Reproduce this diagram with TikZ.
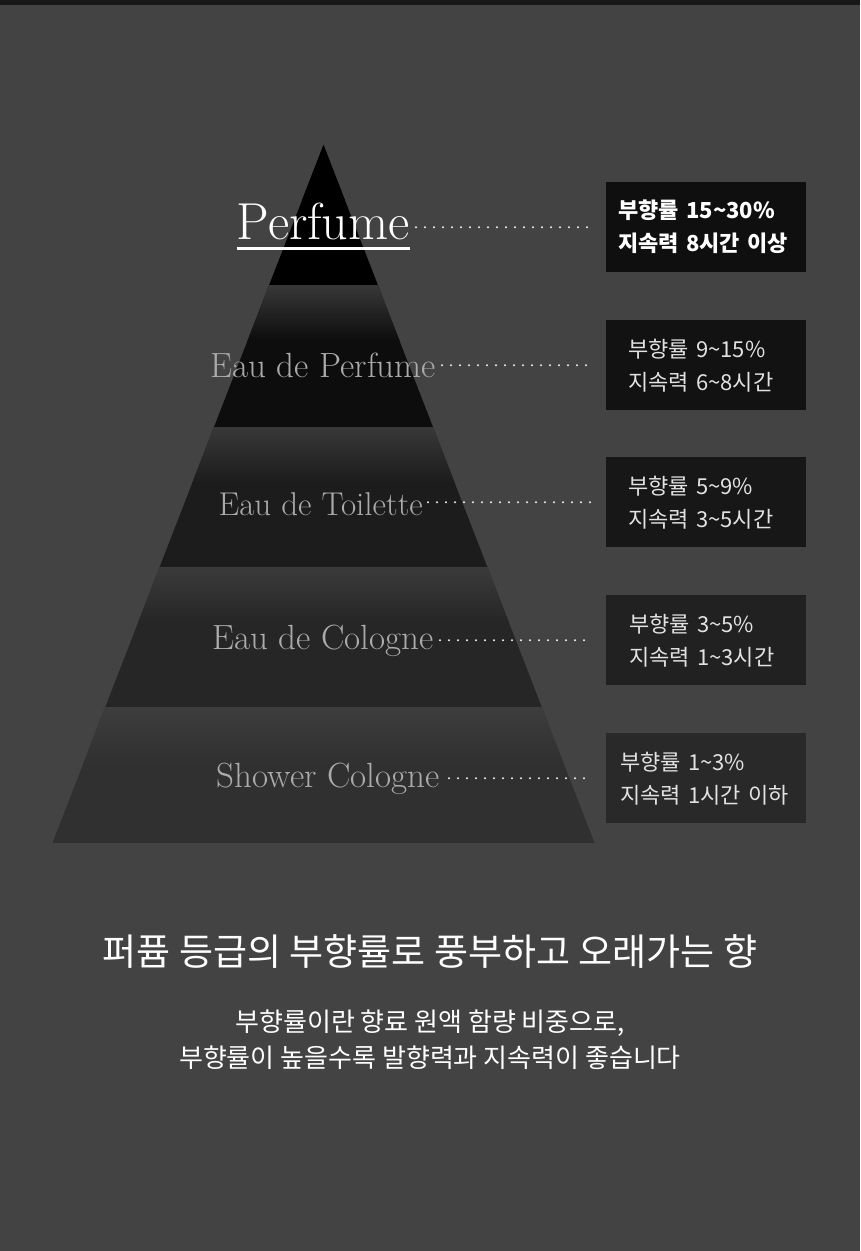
\documentclass[tikz,border=0pt]{standalone}
\usepackage{fontspec}
\newfontfamily\krfont{Noto Sans CJK KR}
\usetikzlibrary{positioning,calc}

\definecolor{bgcol}{HTML}{434343}
\definecolor{bandcol}{HTML}{171717}
\definecolor{gradecol}{HTML}{ABABAB}
\definecolor{boxtext}{HTML}{E2E2E2}

\begin{document}
\begin{tikzpicture}[x=1pt,y=-1pt,
    infobox/.style={anchor=north west, minimum width=200pt, minimum height=90pt,
        align=left, font=\krfont\fontsize{22}{33}\selectfont},
    grade/.style={anchor=base east, inner sep=0pt, text=gradecol,
        font=\fontsize{35}{40}\selectfont},
    dotline/.style={white!88!gray, line width=2.4pt, line cap=round,
        dash pattern=on 0pt off 9pt},
    ]
\useasboundingbox (0,0) rectangle (860,1251);
\fill[bgcol] (0,0) rectangle (860,1251);
\fill[bandcol] (0,0) rectangle (860,5);

    % pyramid layers
    \foreach \ya/\yb/\ct/\cb [evaluate=\ya as \wa using {(\ya-145)*0.3883},
    evaluate=\yb as \wb using {(\yb-145)*0.3883}] in
    {145/285/black/black, 285/427/black!78/black!95, 427/567/black!78/black!89,
     567/707/black!77/black!85, 707/843/black!76/black!81}
    {
    \begin{scope}
    \clip (323.5-\wa,\ya) -- (323.5+\wa,\ya) -- (323.5+\wb,\yb) -- (323.5-\wb,\yb) -- cycle;
    \fill[\cb] (40,\ya) rectangle (610,\yb);
    \shade[top color=\ct, bottom color=\cb] (40,\ya) rectangle (610,\ya+55);
    \end{scope}
    }

    % grade names
    \node[grade, text=white, font=\fontsize{52}{60}\selectfont] (grade1) at (410,239) {Perfume};
    \node[grade] (grade2) at (436,377) {Eau de Perfume};
    \node[grade, font=\fontsize{33}{40}\selectfont] (grade3) at (423,515) {Eau de Toilette};
    \node[grade] (grade4) at (434,649) {Eau de Cologne};
    \node[grade] (grade5) at (440,787) {Shower Cologne};
    \draw[white, line width=3pt] ([yshift=-9pt]grade1.base west) -- ([yshift=-9pt]grade1.base east);

    % info boxes
    \node[infobox, fill=black!94, text=white, inner xsep=12pt, text width=176pt,
        font=\krfont\bfseries\fontsize{22}{33}\selectfont] (box1) at (606,182)
        {부향률 15\textasciitilde30\%\\지속력 8시간 이상};
    \node[infobox, fill=black!93, text=boxtext, inner xsep=22pt, text width=156pt] (box2) at (606,320)
        {부향률 9\textasciitilde15\%\\지속력 6\textasciitilde8시간};
    \node[infobox, fill=black!91, text=boxtext, inner xsep=22pt, text width=156pt] (box3) at (606,457)
        {부향률 5\textasciitilde9\%\\지속력 3\textasciitilde5시간};
    \node[infobox, fill=black!87, text=boxtext, inner xsep=23pt, text width=154pt] (box4) at (606,595)
        {부향률 3\textasciitilde5\%\\지속력 1\textasciitilde3시간};
    \node[infobox, fill=black!84, text=boxtext, inner xsep=14pt, text width=172pt] (box5) at (606,733)
        {부향률 1\textasciitilde3\%\\지속력 1시간 이하};

    \foreach \i/\gap in {1/6, 2/6, 3/5, 4/6, 5/9}
    \draw[dotline] ([xshift=\gap pt]grade\i.east |- box\i.west) -- ([xshift=-14pt]box\i.west);

    % bottom text
    \node[text=white, font=\krfont\fontsize{37}{42}\selectfont] (title) at (430,952)
        {퍼퓸 등급의 부향률로 풍부하고 오래가는 향};
    \node[text=white, align=center, font=\krfont\fontsize{26}{36}\selectfont] (note) at (430,1040)
        {부향률이란 향료 원액 함량 비중으로,\\부향률이 높을수록 발향력과 지속력이 좋습니다};
\end{tikzpicture}
\end{document}
